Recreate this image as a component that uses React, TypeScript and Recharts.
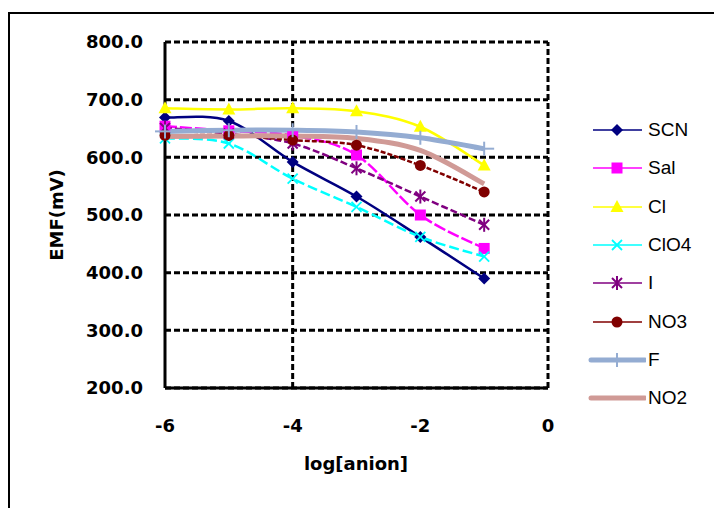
import React from 'react';
import { LineChart, Line, XAxis, YAxis, CartesianGrid, ReferenceLine } from 'recharts';

// log[anion] positions
const LOG_ANION = [-6, -5, -4, -3, -2, -1];

// EMF (mV) per anion
const SCN = [669, 663, 592, 532, 462, 390];
const SAL = [654, 646, 638, 604, 500, 442];
const CL = [685, 683, 685, 680, 653, 586];
const CLO4 = [633, 624, 563, 514, 462, 428];
const I = [651, 641, 624, 581, 532, 483];
const NO3 = [638, 638, 630, 621, 586, 540];
const F = [645, 647, 647, 644, 634, 615];
const NO2 = [636, 637, 637, 633, 612, 554];

const Y_TICKS = [200, 300, 400, 500, 600, 700, 800];
const X_TICKS = [-6, -4, -2, 0];

const FONT = '"DejaVu Sans", Verdana, sans-serif';

type Shape = 'diamond' | 'square' | 'triangle' | 'x' | 'star' | 'circle' | 'plus' | 'none';

interface SeriesDef {
  key: string;
  values: number[];
  color: string;
  width: number;
  shape: Shape;
  dash?: string;
}

const SERIES: SeriesDef[] = [
  { key: 'SCN', values: SCN, color: '#000080', width: 2.5, shape: 'diamond' },
  { key: 'Sal', values: SAL, color: '#ff00ff', width: 2.5, shape: 'square', dash: '12 3' },
  { key: 'Cl', values: CL, color: '#ffff00', width: 2.5, shape: 'triangle' },
  { key: 'ClO4', values: CLO4, color: '#00ffff', width: 2.5, shape: 'x', dash: '10 4' },
  { key: 'I', values: I, color: '#800080', width: 2.5, shape: 'star', dash: '7 3' },
  { key: 'NO3', values: NO3, color: '#800000', width: 2.5, shape: 'circle', dash: '5 2' },
  { key: 'F', values: F, color: '#94acd2', width: 5, shape: 'plus' },
  { key: 'NO2', values: NO2, color: '#d09a96', width: 5, shape: 'none' },
];

const rows = LOG_ANION.map((x, i) => {
  const row: Record<string, number> = { x };
  SERIES.forEach((s) => { row[s.key] = s.values[i]; });
  return row;
});

// smooth line like a spreadsheet's "smoothed line" option
const smoothCurve = (context: any) => {
  let pts: number[][] = [];
  return {
    areaStart() {},
    areaEnd() {},
    lineStart() { pts = []; },
    point(x: number, y: number) { pts.push([+x, +y]); },
    lineEnd() {
      if (!pts.length) return;
      context.moveTo(pts[0][0], pts[0][1]);
      for (let i = 0; i < pts.length - 1; i++) {
        const p0 = pts[Math.max(i - 1, 0)];
        const p1 = pts[i];
        const p2 = pts[i + 1];
        const p3 = pts[Math.min(i + 2, pts.length - 1)];
        context.bezierCurveTo(
          p1[0] + (p2[0] - p0[0]) / 6, p1[1] + (p2[1] - p0[1]) / 6,
          p2[0] - (p3[0] - p1[0]) / 6, p2[1] - (p3[1] - p1[1]) / 6,
          p2[0], p2[1],
        );
      }
    },
  };
};

const Marker = ({ shape, cx, cy, color }: { shape: Shape; cx: number; cy: number; color: string }) => {
  switch (shape) {
    case 'diamond':
      return <polygon points={`${cx},${cy - 6} ${cx + 6},${cy} ${cx},${cy + 6} ${cx - 6},${cy}`} fill={color} />;
    case 'square':
      return <rect x={cx - 5.5} y={cy - 5.5} width={11} height={11} fill={color} />;
    case 'triangle':
      return <polygon points={`${cx},${cy - 7} ${cx + 6.5},${cy + 5} ${cx - 6.5},${cy + 5}`} fill={color} />;
    case 'x':
      return (
        <g stroke={color} strokeWidth={1.8}>
          <line x1={cx - 5} y1={cy - 5} x2={cx + 5} y2={cy + 5} />
          <line x1={cx - 5} y1={cy + 5} x2={cx + 5} y2={cy - 5} />
        </g>
      );
    case 'star':
      return (
        <g stroke={color} strokeWidth={2}>
          <line x1={cx - 5} y1={cy - 5} x2={cx + 5} y2={cy + 5} />
          <line x1={cx - 5} y1={cy + 5} x2={cx + 5} y2={cy - 5} />
          <line x1={cx} y1={cy - 7} x2={cx} y2={cy + 7} />
        </g>
      );
    case 'circle':
      return <circle cx={cx} cy={cy} r={5.5} fill={color} />;
    case 'plus':
      return (
        <g stroke={color} strokeWidth={2}>
          <line x1={cx - 10} y1={cy} x2={cx + 10} y2={cy} />
          <line x1={cx} y1={cy - 7} x2={cx} y2={cy + 7} />
        </g>
      );
    default:
      return null;
  }
};

const ChartLegend = () => (
  <div style={{ position: 'absolute', left: 588, top: 111 }}>
    {SERIES.map((s) => (
      <div key={s.key} style={{ display: 'flex', alignItems: 'center', height: 38.3 }}>
        <svg width={58} height={20} style={{ display: 'block' }}>
          <line
            x1={s.width > 3 ? 3 : 5}
            y1={10}
            x2={s.width > 3 ? 57 : 54}
            y2={10}
            stroke={s.color}
            strokeWidth={s.width > 3 ? 5 : 1.5}
            strokeLinecap={s.width > 3 ? 'round' : 'butt'}
          />
          <Marker shape={s.shape} cx={29} cy={10} color={s.color} />
        </svg>
        <span style={{ fontFamily: '"Liberation Sans", Arial, sans-serif', fontSize: 19, color: '#000', marginLeft: 2 }}>
          {s.key}
        </span>
      </div>
    ))}
  </div>
);

const App: React.FC = () => {
  const tickStyle = { fontFamily: FONT, fontSize: 18, fontWeight: 'bold' as const, fill: '#000' };
  return (
    <div style={{ position: 'absolute', left: 0, top: 0, width: 714, height: 508, background: '#fff', overflow: 'hidden' }}>
      <div style={{ position: 'absolute', left: 8, top: 12, width: 720, height: 520, borderLeft: '2px solid #000', borderTop: '2px solid #000' }} />
      <LineChart width={714} height={508} data={rows} margin={{ top: 42, right: 166, bottom: 90, left: 105 }}>
        <CartesianGrid vertical={false} stroke="#000" strokeWidth={3} strokeDasharray="6 3" />
        <ReferenceLine x={-4} stroke="#000" strokeWidth={3} strokeDasharray="6 3" />
        <ReferenceLine x={0} stroke="#000" strokeWidth={3} strokeDasharray="6 3" />
        <XAxis
          dataKey="x"
          type="number"
          domain={[-6, 0]}
          ticks={X_TICKS}
          height={30}
          tickSize={0}
          tickMargin={31}
          tick={tickStyle}
          axisLine={{ stroke: '#000', strokeWidth: 3 }}
          label={{
            content: () => (
              <text x={356} y={463} textAnchor="middle" dominantBaseline="central" style={tickStyle}>
                log[anion]
              </text>
            ),
          }}
        />
        <YAxis
          type="number"
          domain={[200, 800]}
          ticks={Y_TICKS}
          width={60}
          tickSize={0}
          tickMargin={22}
          tick={tickStyle}
          tickFormatter={(v: number) => v.toFixed(1)}
          axisLine={{ stroke: '#000', strokeWidth: 3 }}
          label={{
            content: () => (
              <text x={56} y={215} transform="rotate(-90 56 215)" textAnchor="middle" dominantBaseline="central" style={tickStyle}>
                EMF(mV)
              </text>
            ),
          }}
        />
        {SERIES.map((s) => (
          <Line
            key={s.key}
            dataKey={s.key}
            type={smoothCurve as any}
            stroke={s.color}
            strokeWidth={s.width}
            strokeDasharray={s.dash}
            isAnimationActive={false}
            activeDot={false}
            dot={
              s.shape === 'none'
                ? false
                : (p: any) => <Marker key={`${s.key}-${p.index}`} shape={s.shape} cx={p.cx} cy={p.cy} color={s.color} />
            }
          />
        ))}
      </LineChart>
      <ChartLegend />
    </div>
  );
};

export default App;
